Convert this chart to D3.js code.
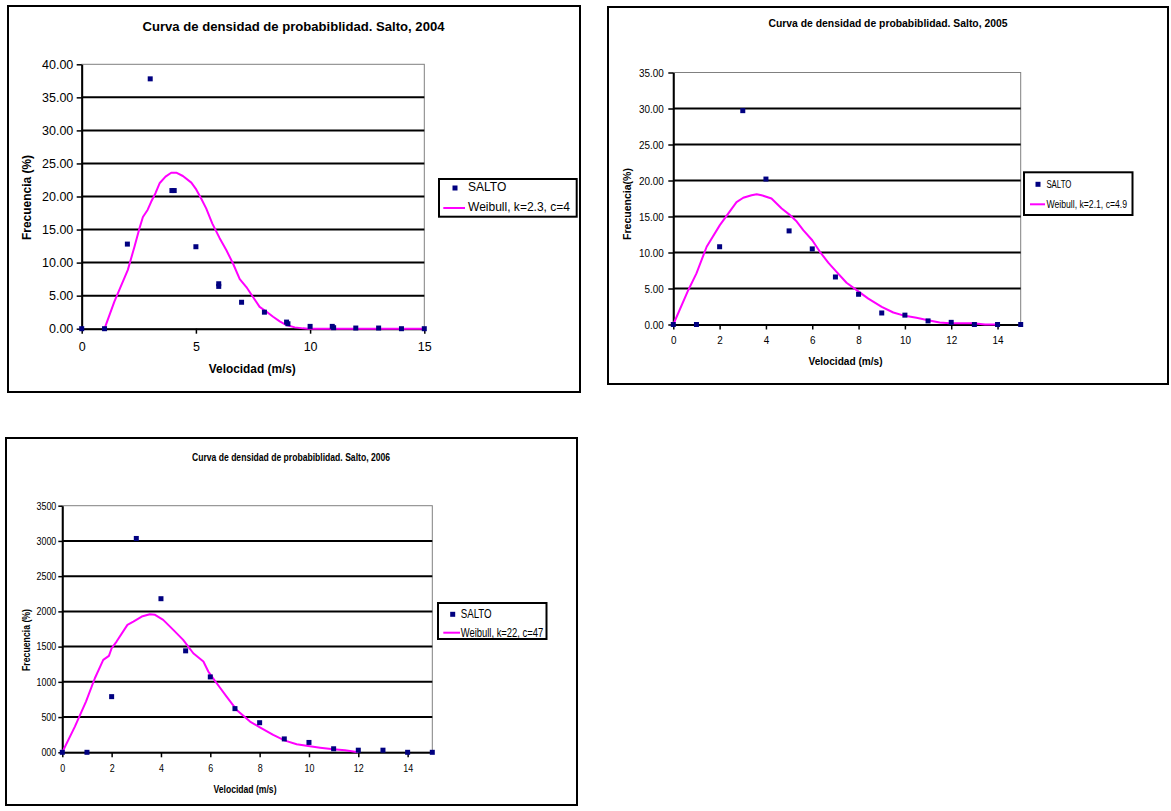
<!DOCTYPE html>
<html>
<head>
<meta charset="utf-8">
<script src="https://cdn.jsdelivr.net/npm/d3@7"></script>
<style>
  html, body { margin: 0; padding: 0; background: #fff; }
  svg { display: block; }
  text { font-family: "Liberation Sans", Arial, Helvetica, sans-serif; fill: #000; }
</style>
</head>
<body>
<svg id="page" width="1171" height="811"></svg>
<script>
// ---------------- data ----------------
// Salto 2004
const speedTicks2004 = [0, 5, 10, 15];
const freqTicks2004 = [0, 5, 10, 15, 20, 25, 30, 35, 40];
const freqLabels2004 = ["0.00", "5.00", "10.00", "15.00", "20.00", "25.00", "30.00", "35.00", "40.00"];
const salto2004Speed = [0, 1, 2, 3, 3.95, 4.05, 5, 6, 6, 7, 8, 8.97, 9.03, 10, 10.97, 11.03, 12, 13, 14, 15];
const salto2004Freq  = [0, 0, 12.8, 37.8, 20.9, 20.9, 12.4, 6.8, 6.4, 4.0, 2.5, 1.0, 0.75, 0.35, 0.35, 0.15, 0.1, 0.1, 0.0, 0.0];
const weibull2004Speed = [1.0, 1.43, 2.02, 2.31, 2.53, 2.68, 2.89, 3.04, 3.23, 3.41, 3.67, 3.92, 4.14, 4.43, 4.8, 4.99, 5.23, 5.45, 5.72, 6.04, 6.33, 6.62, 6.92, 7.21, 7.5, 7.79, 8.08, 8.38, 8.67, 8.96, 9.33, 9.69, 9.91, 15];
const weibull2004Freq  = [0.0, 4.1, 8.9, 12.4, 15.2, 16.9, 18.0, 19.2, 20.5, 22.0, 23.0, 23.6, 23.6, 23.1, 22.1, 21.2, 19.7, 18.2, 15.9, 13.7, 11.9, 9.9, 7.5, 6.3, 4.8, 3.3, 2.6, 1.8, 1.1, 0.55, 0.2, 0.05, 0.0, 0.0];

// Salto 2005
const speedTicks2005 = [0, 2, 4, 6, 8, 10, 12, 14];
const freqTicks2005 = [0, 5, 10, 15, 20, 25, 30, 35];
const freqLabels2005 = ["0.00", "5.00", "10.00", "15.00", "20.00", "25.00", "30.00", "35.00"];
const salto2005Speed = [0, 1, 2, 3, 4, 5, 6, 7, 8, 9, 10, 11, 12, 13, 14, 15];
const salto2005Freq  = [0, 0, 10.8, 29.7, 20.2, 13.0, 10.5, 6.6, 4.2, 1.6, 1.3, 0.5, 0.3, 0.0, 0.0, 0.0];
const weibull2005Speed = [0, 0.65, 1.0, 1.44, 2.01, 2.37, 2.73, 3.02, 3.38, 3.6, 3.81, 4.24, 4.68, 5.0, 5.33, 5.61, 6.0, 6.33, 6.69, 7.05, 7.48, 7.99, 8.42, 9.0, 9.5, 10.0, 10.5, 11.0, 11.5, 11.94, 12.95, 13.46, 13.96];
const weibull2005Freq  = [0, 4.8, 7.1, 10.8, 13.8, 15.4, 17.0, 17.6, 17.96, 18.1, 17.96, 17.5, 16.1, 15.3, 14.3, 13.1, 11.7, 10.1, 8.6, 7.3, 5.8, 4.6, 3.6, 2.45, 1.67, 1.2, 0.93, 0.6, 0.28, 0.19, 0.19, 0.0, 0.0];

// Salto 2006
const speedTicks2006 = [0, 2, 4, 6, 8, 10, 12, 14];
const freqTicks2006 = [0, 500, 1000, 1500, 2000, 2500, 3000, 3500];
const freqLabels2006 = ["000", "500", "1000", "1500", "2000", "2500", "3000", "3500"];
const salto2006Speed = [0, 1, 2, 3, 4, 5, 6, 7, 8, 9, 10, 11, 12, 13, 14, 15];
const salto2006Freq  = [0, 0, 790, 3035, 2180, 1440, 1070, 620, 420, 190, 140, 50, 30, 30, 0, 0];
const weibull2006Speed = [0, 0.51, 0.96, 1.32, 1.66, 1.89, 2.0, 2.2, 2.64, 2.88, 3.22, 3.55, 3.76, 4.09, 4.5, 4.9, 5.31, 5.72, 5.92, 6.26, 6.66, 7.07, 7.61, 8.01, 8.55, 9.03, 9.5, 9.97, 10.45, 10.99, 11.46, 12.0];
const weibull2006Freq  = [0, 365, 720, 1051, 1311, 1368, 1477, 1572, 1809, 1856, 1927, 1960, 1951, 1880, 1738, 1596, 1406, 1288, 1146, 980, 791, 601, 436, 355, 246, 166, 114, 90, 66, 43, 28, 0];

// ---------------- layout ----------------
const charts = [
  {
    box: [8, 6, 580, 392], plot: [81.7, 64.3, 424.3, 328.7], xMax: 15, yMax: 40,
    xTicks: speedTicks2004, yTicks: freqTicks2004, yLabels: freqLabels2004,
    salto: [salto2004Speed, salto2004Freq], weibull: [weibull2004Speed, weibull2004Freq],
    title: { text: "Curva de densidad de probabiblidad. Salto, 2004", size: 13, w: 302, x: 293.5, y: 26 },
    ylab: { text: "Frecuencia (%)", size: 12, w: 85, x: 26.7, y: 197.5 },
    xlab: { text: "Velocidad (m/s)", size: 12, w: 87, x: 252.3, y: 369 },
    tick: { size: 12.5, factor: 1, ySize: 5, yPad: 3.4, xSize: 5, xPad: 8 },
    legend: { box: [439, 179, 576.7, 216.7], marker: [455, 188], salto: { x: 468, y: 187, w: null, size: 12 },
              line: [443.3, 465, 208], weib: { x: 468, y: 207, w: 102, size: 12 }, label: "Weibull, k=2.3, c=4" }
  },
  {
    box: [608, 7, 1168, 384], plot: [673.3, 72.5, 1020.7, 324.5], xMax: 15, yMax: 35,
    xTicks: speedTicks2005, yTicks: freqTicks2005, yLabels: freqLabels2005,
    salto: [salto2005Speed, salto2005Freq], weibull: [weibull2005Speed, weibull2005Freq],
    title: { text: "Curva de densidad de probabiblidad. Salto, 2005", size: 11, w: 239, x: 888, y: 23.3 },
    ylab: { text: "Frecuencia(%)", size: 11, w: 72, x: 627, y: 204 },
    xlab: { text: "Velocidad (m/s)", size: 11, w: 74, x: 845.5, y: 361 },
    tick: { size: 11, factor: 0.9, ySize: 5, yPad: 4.5, xSize: 5, xPad: 7 },
    legend: { box: [1024, 172.3, 1132.5, 215], marker: [1038, 184.3], salto: { x: 1046.4, y: 184.3, w: 25, size: 10 },
              line: [1030, 1045, 204.3], weib: { x: 1046.4, y: 204.3, w: 80.7, size: 10 }, label: "Weibull, k=2.1, c=4.9" }
  },
  {
    box: [6, 438, 577, 805], plot: [62.3, 505.7, 432.3, 752.3], xMax: 15, yMax: 3500,
    xTicks: speedTicks2006, yTicks: freqTicks2006, yLabels: freqLabels2006,
    salto: [salto2006Speed, salto2006Freq], weibull: [weibull2006Speed, weibull2006Freq],
    title: { text: "Curva de densidad de probabiblidad. Salto, 2006", size: 11, w: 198, x: 291, y: 456.7 },
    ylab: { text: "Frecuencia (%)", size: 10, w: 62, x: 26.7, y: 640 },
    xlab: { text: "Velocidad (m/s)", size: 10, w: 63, x: 245, y: 789 },
    tick: { size: 10.5, factor: 0.85, ySize: 4, yPad: 2, xSize: 5, xPad: 7.5 },
    legend: { box: [438, 603, 546.5, 639], marker: [452.7, 614.3], salto: { x: 460.7, y: 613.3, w: 31, size: 12 },
              line: [443.3, 460, 632.7], weib: { x: 460.7, y: 632.7, w: 82.6, size: 12 }, label: "Weibull, k=22, c=47" }
  }
];

const NAVY = "#000080";
const MAGENTA = "#ff00ff";
const svg = d3.select("#page");

function label(g, s, x, y, opt) {
  const t = g.append("text")
    .attr("x", x).attr("y", y).attr("dy", "0.35em")
    .attr("text-anchor", opt.anchor || "start")
    .style("font-size", opt.size + "px")
    .style("font-weight", opt.bold ? "bold" : "normal")
    .text(s);
  if (opt.rotate) t.attr("transform", `rotate(-90,${x},${y})`);
  if (opt.w) t.attr("textLength", opt.w).attr("lengthAdjust", "spacingAndGlyphs");
  return t;
}

function squeeze(sel, factor) {
  if (factor === 1) return;
  sel.each(function () {
    const w = this.getComputedTextLength();
    d3.select(this).attr("textLength", w * factor).attr("lengthAdjust", "spacingAndGlyphs");
  });
}

charts.forEach(c => {
  const g = svg.append("g");
  const [bx0, by0, bx1, by1] = c.box;
  g.append("rect").attr("x", bx0).attr("y", by0).attr("width", bx1 - bx0).attr("height", by1 - by0)
    .attr("fill", "#fff").attr("stroke", "#000").attr("stroke-width", 2);

  const [px0, py0, px1, py1] = c.plot;
  const x = d3.scaleLinear().domain([0, c.xMax]).range([px0, px1]);
  const y = d3.scaleLinear().domain([0, c.yMax]).range([py1, py0]);

  // plot area frame
  g.append("rect").attr("x", px0).attr("y", py0).attr("width", px1 - px0).attr("height", py1 - py0)
    .attr("fill", "#fff").attr("stroke", "#808080").attr("stroke-width", 1);

  // horizontal gridlines
  g.append("g").selectAll("line")
    .data(c.yTicks.filter(v => v > 0 && v < c.yMax))
    .join("line")
    .attr("x1", px0).attr("x2", px1)
    .attr("y1", d => y(d)).attr("y2", d => y(d))
    .attr("stroke", "#000").attr("stroke-width", 2);

  // axes
  const yAxis = g.append("g").attr("transform", `translate(${px0},0)`)
    .call(d3.axisLeft(y).tickValues(c.yTicks).tickFormat((d, i) => c.yLabels[i])
      .tickSize(c.tick.ySize).tickPadding(c.tick.yPad).tickSizeOuter(0));
  const xAxis = g.append("g").attr("transform", `translate(0,${py1})`)
    .call(d3.axisBottom(x).tickValues(c.xTicks).tickFormat(d3.format("d"))
      .tickSize(c.tick.xSize).tickPadding(c.tick.xPad).tickSizeOuter(0));
  [yAxis, xAxis].forEach(a => {
    a.select(".domain").attr("stroke", "#000").attr("stroke-width", 2);
    a.selectAll(".tick line").attr("stroke", "#000").attr("stroke-width", 1.5);
    a.selectAll("text").style("font-size", c.tick.size + "px")
      .style("font-family", "'Liberation Sans', Arial, sans-serif").attr("fill", "#000");
    squeeze(a.selectAll("text"), c.tick.factor);
  });

  // Weibull fit curve
  const curve = d3.zip(c.weibull[0], c.weibull[1]);
  g.append("path").datum(curve)
    .attr("d", d3.line().x(d => x(d[0])).y(d => y(d[1])))
    .attr("fill", "none").attr("stroke", MAGENTA).attr("stroke-width", 2)
    .attr("stroke-linejoin", "round");

  // observed frequencies
  const pts = d3.zip(c.salto[0], c.salto[1]);
  g.append("g").selectAll("rect").data(pts).join("rect")
    .attr("x", d => x(d[0]) - 2.5).attr("y", d => y(d[1]) - 2.5)
    .attr("width", 5).attr("height", 5).attr("fill", NAVY);

  // titles
  label(g, c.title.text, c.title.x, c.title.y, { size: c.title.size, bold: true, anchor: "middle", w: c.title.w });
  label(g, c.ylab.text, c.ylab.x, c.ylab.y, { size: c.ylab.size, bold: true, anchor: "middle", w: c.ylab.w, rotate: true });
  label(g, c.xlab.text, c.xlab.x, c.xlab.y, { size: c.xlab.size, bold: true, anchor: "middle", w: c.xlab.w });

  // legend
  const L = c.legend;
  g.append("rect").attr("x", L.box[0]).attr("y", L.box[1])
    .attr("width", L.box[2] - L.box[0]).attr("height", L.box[3] - L.box[1])
    .attr("fill", "#fff").attr("stroke", "#000").attr("stroke-width", 2);
  g.append("rect").attr("x", L.marker[0] - 2.5).attr("y", L.marker[1] - 2.5)
    .attr("width", 5).attr("height", 5).attr("fill", NAVY);
  label(g, "SALTO", L.salto.x, L.salto.y, { size: L.salto.size, w: L.salto.w });
  g.append("line").attr("x1", L.line[0]).attr("x2", L.line[1]).attr("y1", L.line[2]).attr("y2", L.line[2])
    .attr("stroke", MAGENTA).attr("stroke-width", 2);
  label(g, L.label, L.weib.x, L.weib.y, { size: L.weib.size, w: L.weib.w });
});
</script>
</body>
</html>
